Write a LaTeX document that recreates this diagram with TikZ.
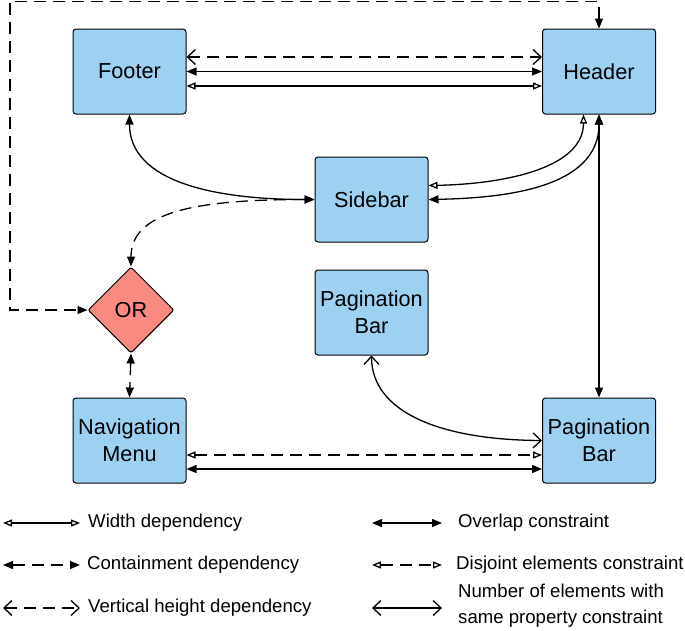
\documentclass[tikz,border=0pt]{standalone}
\usepackage{fontspec}
\setmainfont{Liberation Sans}
\usetikzlibrary{arrows.meta,shapes.geometric}
\definecolor{boxblue}{RGB}{157,209,241}
\definecolor{orred}{RGB}{248,138,130}
\begin{document}
\begin{tikzpicture}[x=1pt,y=-1pt,
  box/.style={draw=black, line width=1pt, fill=boxblue, rounded corners=3pt,
    minimum width=113pt, minimum height=85pt, align=center, inner sep=0pt,
    font=\fontsize{21.7}{27}\selectfont},
  ornode/.style={draw=black, line width=1pt, fill=orred, shape=diamond,
    rounded corners=2pt, minimum width=86pt, minimum height=86pt, inner sep=0pt,
    font=\fontsize{21.7}{27}\selectfont},
  legtext/.style={anchor=west, inner sep=0pt, align=left,
    font=\fontsize{18.6}{26}\selectfont},
  conn/.style={line width=1.3pt},
  dashedconn/.style={conn, dash pattern=on 12pt off 7pt},
  ftip/.tip={Triangle[length=10pt,width=8pt]},
  otip/.tip={Triangle[open,length=9pt,width=7pt,fill=white]},
  vtip/.tip={Straight Barb[length=8pt,width=15pt,line width=1.3pt]},
  overlap/.style={conn, ftip-ftip},
  widthdep/.style={conn, otip-otip},
  containment/.style={dashedconn, ftip-ftip},
  disjoint/.style={dashedconn, otip-otip},
  vertdep/.style={dashedconn, vtip-vtip},
  numel/.style={conn, vtip-vtip}
]
\useasboundingbox (0,0) rectangle (685,630);

% nodes
\node[box] (Footer) at (129.5,71.5) {Footer};
\node[box] (Header) at (599,71.5) {Header};
\node[box] (Sidebar) at (371.5,199.5) {Sidebar};
\node[box] (PagTop) at (371.5,312.5) {Pagination\\Bar};
\node[ornode] (OR) at (131,310) {OR};
\node[box] (Nav) at (129.5,440.5) {Navigation\\Menu};
\node[box] (PagBot) at (599,440.5) {Pagination\\Bar};

% footer - header
\draw[vertdep] ([yshift=14.5pt]Footer.east) -- ([yshift=14.5pt]Header.west);
\draw[overlap] (Footer.east) -- (Header.west);
\draw[widthdep] ([yshift=-14.5pt]Footer.east) -- ([yshift=-14.5pt]Header.west);

% header - pagination bottom
\draw[overlap] (Header.south) -- (PagBot.north);

% header - sidebar
\draw[widthdep] ([xshift=-15.5pt]Header.south) .. controls (583.5,168) and (505,184) .. ([yshift=14pt]Sidebar.east);
\draw[overlap] (Header.south) .. controls (599,188) and (505,198) .. (Sidebar.east);

% footer - sidebar
\draw[overlap] (Footer.south) .. controls (129.5,182) and (215,199.5) .. (Sidebar.west);

% sidebar - OR
\draw[containment] (Sidebar.west) .. controls (195,199.5) and (131,212) .. (OR.north);

% header loop - OR
\coordinate (loopTL) at (10,1.5);
\draw[containment] (Header.north) |- (loopTL) |- (OR.west);

% OR - navigation
\draw[containment] (OR.south) -- (Nav.north);

% navigation - pagination bottom
\draw[disjoint] ([yshift=-14.5pt]Nav.east) -- ([yshift=-14.5pt]PagBot.west);
\draw[overlap] ([yshift=-28.5pt]Nav.east) -- ([yshift=-28.5pt]PagBot.west);

% pagination top - pagination bottom
\draw[numel] (PagTop.south) .. controls (371.5,412) and (440,440) .. (PagBot.west);

% legend
\coordinate (la1) at (3,523);   \coordinate (lb1) at (80,523);
\coordinate (la2) at (3,565);   \coordinate (lb2) at (80,565);
\coordinate (la3) at (3,608);   \coordinate (lb3) at (80,608);
\coordinate (ra1) at (372,523); \coordinate (rb1) at (442,523);
\coordinate (ra2) at (372,565); \coordinate (rb2) at (442,565);
\coordinate (ra3) at (372,608); \coordinate (rb3) at (442,608);

\draw[widthdep] (la1) -- (lb1);
\draw[containment] (la2) -- (lb2);
\draw[vertdep] (la3) -- (lb3);
\draw[overlap] (ra1) -- (rb1);
\draw[disjoint] (ra2) -- (rb2);
\draw[numel] (ra3) -- (rb3);

\node[legtext] (t1) at (88,523) {Width dependency};
\node[legtext] (t2) at (87,565) {Containment dependency};
\node[legtext] (t3) at (88,608) {Vertical height dependency};
\node[legtext] (t4) at (458,523) {Overlap constraint};
\node[legtext] (t5) at (456,565) {Disjoint elements constraint};
\node[legtext] (t6) at (458,606) {Number of elements with\\same property constraint};
\end{tikzpicture}
\end{document}
